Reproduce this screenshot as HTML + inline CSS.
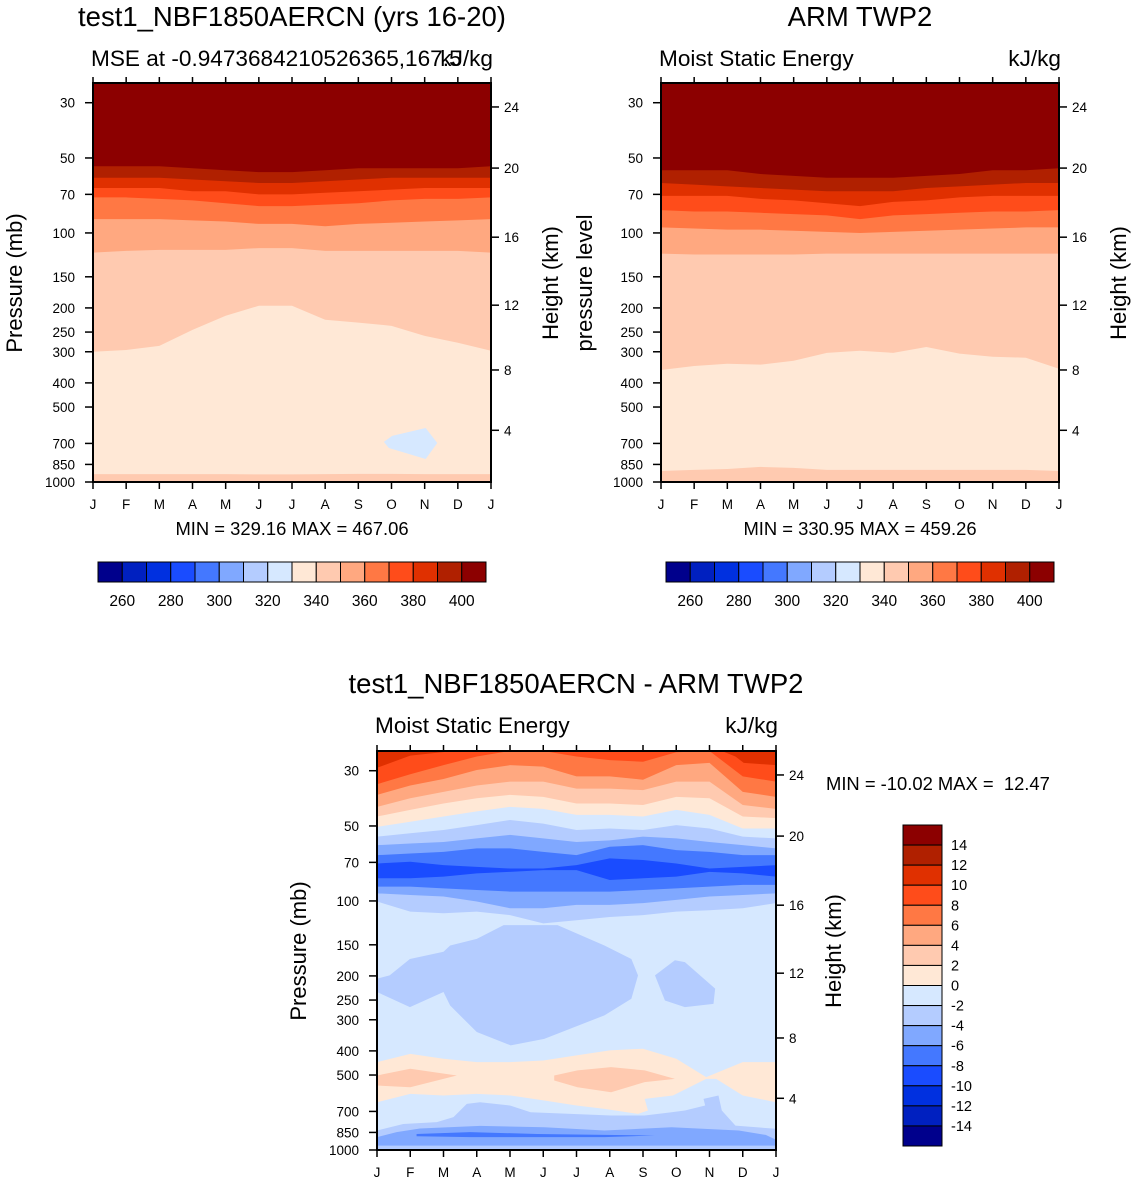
<!DOCTYPE html>
<html><head><meta charset="utf-8">
<style>
html,body{margin:0;padding:0;background:#fff;}
svg{display:block;font-family:"Liberation Sans",Arial,sans-serif;}
</style></head>
<body>
<svg id="chart" width="1135" height="1188" viewBox="0 0 1135 1188" xmlns="http://www.w3.org/2000/svg">
<rect width="1135" height="1188" fill="#fff"/>
<g>
<text x="292" y="26" font-size="27.5" text-anchor="middle">test1_NBF1850AERCN (yrs 16-20)</text>
<text x="91" y="66" font-size="22.6">MSE at -0.9473684210526365,167.5</text>
<text x="493" y="66" font-size="22.6" text-anchor="end">kJ/kg</text>
<text transform="translate(22,283) rotate(-90)" font-size="22" text-anchor="middle">Pressure (mb)</text>
<text transform="translate(558,283) rotate(-90)" font-size="22" text-anchor="middle">Height (km)</text>
<text x="292" y="535" font-size="18.4" text-anchor="middle">MIN = 329.16 MAX = 467.06</text>
</g>
<g>
<text x="860" y="26" font-size="27.5" text-anchor="middle">ARM TWP2</text>
<text x="659" y="66" font-size="22.6">Moist Static Energy</text>
<text x="1061" y="66" font-size="22.6" text-anchor="end">kJ/kg</text>
<text transform="translate(592,283) rotate(-90)" font-size="22" text-anchor="middle">pressure level</text>
<text transform="translate(1126,283) rotate(-90)" font-size="22" text-anchor="middle">Height (km)</text>
<text x="860" y="535" font-size="18.4" text-anchor="middle">MIN = 330.95 MAX = 459.26</text>
</g>
<g>
<text x="576" y="693" font-size="27.5" text-anchor="middle">test1_NBF1850AERCN - ARM TWP2</text>
<text x="375" y="733" font-size="22.6">Moist Static Energy</text>
<text x="778" y="733" font-size="22.6" text-anchor="end">kJ/kg</text>
<text transform="translate(306,951) rotate(-90)" font-size="22" text-anchor="middle">Pressure (mb)</text>
<text transform="translate(841,951) rotate(-90)" font-size="22" text-anchor="middle">Height (km)</text>
<text x="826" y="790" font-size="18.4" style="white-space:pre">MIN = -10.02 MAX =  12.47</text>
</g>
</svg>
<script>
// ---- shared axis data ----
const months = ["J","F","M","A","M","J","J","A","S","O","N","D","J"];
const pressureTicks = [30,50,70,100,150,200,250,300,400,500,700,850,1000];
const heightTicks = [4,8,12,16,20,24];
const heightTickPressure = [620,355,195,104,54.9,31.2];
const absLevels = [260,280,300,320,340,360,380,400];
const diffLevels = [14,12,10,8,6,4,2,0,-2,-4,-6,-8,-10,-12,-14];
const palette = ["#00008c","#0020c0","#0030e0","#1a4cff","#4478ff","#80a8ff","#b4ccff","#d6e8ff","#ffe8d6","#ffcab0","#ffa880","#ff7844","#ff4c1a","#e03000","#b02000","#8c0000"];

// ---- panel 1 (model) boundaries, pressure (mb) per month ----
const m1_b400 = [54,54,54,55,56,57,57,56,55,55,55,55,54];
const m1_b390 = [60,60,60,61,62,63,63,62,61,60,60,60,60];
const m1_b380 = [66,66,66,68,68,70,70,69,68,67,66,66,66];
const m1_b370 = [72,72,73,74,76,78,78,77,76,74,73,73,72];
const m1_b360 = [88,88,88,89,90,92,92,94,92,91,90,89,88];
const m1_b350 = [120,118,117,117,117,115,115,118,118,118,118,118,120];
const m1_b340 = [300,295,284,245,215,196,196,223,229,236,259,276,297];
const m1_b330 = [930,930,930,930,930,932,932,930,928,928,930,930,930];
const m1_blob = [[8.77,690],[9.02,653],[10.03,607],[10.38,697],[10.03,808],[8.92,730]];

// ---- panel 2 (obs) ----
const m2_b400 = [56,56,56,58,59,60,60,60,59,58,56,56,55];
const m2_b390 = [63,64,65,66,67,68,68,68,66,65,64,63,63];
const m2_b380 = [71,71,71,73,74,76,78,75,74,72,71,71,71];
const m2_b370 = [81,82,82,83,84,85,88,85,84,83,82,82,81];
const m2_b360 = [95,96,97,97,98,99,100,99,98,97,96,95,95];
const m2_b350 = [121,122,122,122,122,121,121,121,121,121,121,121,121];
const m2_b340 = [355,342,335,338,326,303,297,303,287,305,314,317,351];
const m2_b330 = [903,894,887,870,878,894,894,894,894,894,894,894,903];

// ---- panel 3 (difference) ----
const d_c1 = [34,31,28.5,26.3,25,25,26.3,27.2,27.6,25.3,25,31.6,33.2];
const d_c2 = [37.5,34.4,32.4,29.8,28.5,28.9,31.6,31.6,32.6,28.5,27.9,36.5,38.2];
const d_c3 = [41.9,38.7,36.5,34.4,33.2,33.2,35.4,35.4,35.9,33.2,33.2,41.2,42.7];
const d_c4 = [45.8,43.1,40.6,38.7,37.5,38.2,40.6,40.6,41.2,38.2,38.7,45.8,46.5];
const d_c5 = [50.4,48.1,45.8,43.7,41.9,42.7,45.1,45.1,45.8,43.1,45.1,51.2,51.2];
const d_c6 = [55.2,53.5,51.9,49.6,47.3,48.9,51.9,51.2,51.9,49.6,51.2,55.2,56.1];
const d_c7 = [59.7,58.8,58,56.1,54.3,56.1,58,57.1,55.2,56.1,58,59.7,61.5];
const d_c8 = [65.5,64.5,63.5,61.5,61.5,63.5,65.5,60.6,59.7,62.5,63.5,65.5,65.5];
const d_c9 = [70.7,69.6,71.8,73,74.1,74.1,71.8,67.5,68.5,70.7,74.1,73,71.8];
const d_c10 = [81.1,81.1,79.9,77.5,76.4,75.2,75.2,82.4,81.1,79.9,76.4,77.5,79.9];
const d_c11 = [87.6,87.6,89,90.4,91.7,91.7,91.7,91.7,90.4,89,87.6,86.2,86.2];
const d_c12 = [93.2,94.6,96,100.5,107,107,103.7,103.7,102,99,96,94.6,93.2];
const d_c13 = [100.5,110.4,112,110.4,114,123,119.5,116,114,110.4,109,107,102];
const d_topLeft = [[0,25],[2.3,25],[1,26.1],[0,29.2]];
const d_topRight = [[10.37,25],[12,25],[12,28.5],[11.03,27.9],[10.78,26.3]];
const d_bigBlob = [[0,205],[0,232],[0.99,267],[2.0,232],[2.2,263],[3.0,336],[4.02,380],[5.03,358],[6.84,288],[7.65,247],[7.85,199],[7.65,171],[6.84,151],[5.43,125],[3.81,125],[3.0,142],[2.2,151],[2.0,160],[0.99,171],[0.38,199]];
const d_smallBlob = [[8.36,199],[8.96,173],[9.26,176],[10.17,225],[10.12,259],[9.26,267],[8.66,251]];
const d_pinkBand = [[0,444],[1,411],[2,430],[3,444],[4,444],[5,437],[6,417],[7,398],[8,392],[9,430],[9.9,510],[11,444],[12,444],[12,643],[11,604],[10.2,518],[9.9,518],[8.9,604],[8.05,623],[8.15,694],[7.85,716],[6.84,684],[6.0,663],[5.03,633],[4.02,604],[3.0,595],[2.0,604],[1.0,595],[0,643]];
const d_peachA = [[0,502],[1,472],[2.4,502],[1,560],[0,551]];
const d_peachB = [[5.33,502],[6.03,479],[7.04,465],[8.05,479],[8.96,518],[8.05,534],[7.04,586],[6.03,560],[5.33,526]];
const d_lowBlue = [[0,835],[0.79,786],[1.8,773],[2.3,738],[2.7,653],[3.1,643],[4.0,663],[4.62,705],[5.83,716],[7.04,727],[8.05,727],[8.86,705],[9.26,694],[9.87,663],[9.82,623],[10.27,604],[10.37,694],[10.78,798],[12,822],[12,1000],[0,1000]];
const d_lowBlue2 = [[0,888],[0.59,848],[1.29,820],[3.1,800],[5.03,810],[6.84,835],[8.86,810],[10.88,835],[11.69,870],[12,910],[12,960],[0,960]];
const d_lowBlue3 = [[1.19,862],[2.8,848],[4.82,862],[6.84,869],[8.36,875],[6.84,888],[2.8,888],[1.19,881]];

const NS="http://www.w3.org/2000/svg";
const svg=document.getElementById('chart');
function mk(tag,attrs,parent){const e=document.createElementNS(NS,tag);for(const k in attrs)e.setAttribute(k,attrs[k]);(parent||svg).appendChild(e);return e;}

function makeAxes(x0,y0,w,h){
  const PTOP=25,PBOT=1000;
  return {
    x:m=>x0+m/12*w,
    y:p=>y0+h-Math.log(PBOT/p)/Math.log(PBOT/PTOP)*h,
    x0,y0,w,h
  };
}
function bandPath(ax,arr){
  let d=`M${ax.x(0)},${ax.y0} L${ax.x(12)},${ax.y0}`;
  for(let i=arr.length-1;i>=0;i--) d+=` L${ax.x(i)},${ax.y(arr[i])}`;
  return d+'Z';
}
function polyPath(ax,pts){
  return 'M'+pts.map(p=>ax.x(p[0])+','+ax.y(p[1])).join(' L')+'Z';
}

function drawFrame(ax,g,prefix){
  const {x0,y0,w,h}=ax;
  for(let i=0;i<months.length;i++){
    const xx=ax.x(i);
    const t1=mk('line',{x1:xx,x2:xx,y1:y0+h,y2:y0+h+7,stroke:'#000','stroke-width':1.5},g);
    
    
    const t2=mk('line',{x1:xx,x2:xx,y1:y0,y2:y0-6,stroke:'#000','stroke-width':1.5},g);
    
    
    const lb=mk('text',{x:xx,y:y0+h+27,'font-size':13.5,'text-anchor':'middle'},g);
    lb.textContent=months[i];
    
    
  }
  for(const p of pressureTicks){
    const yy=ax.y(p);
    const t=mk('line',{x1:x0-8,x2:x0,y1:yy,y2:yy,stroke:'#000','stroke-width':1.5},g);
    
    
    const lb=mk('text',{x:x0-18,y:yy+5,'font-size':13.5,'text-anchor':'end'},g);
    lb.textContent=p;
    
    
  }
  for(let i=0;i<heightTicks.length;i++){
    const yy=ax.y(heightTickPressure[i]);
    const t=mk('line',{x1:x0+w,x2:x0+w+8,y1:yy,y2:yy,stroke:'#000','stroke-width':1.5},g);
    
    
    const lb=mk('text',{x:x0+w+13,y:yy+5,'font-size':13.5},g);
    lb.textContent=heightTicks[i];
    
    
  }
  const fr=mk('rect',{x:x0,y:y0,width:w,height:h,fill:'none',stroke:'#000','stroke-width':2},g);
  
  
}

function drawAbsPanel(x0,prefix,bounds,blob){
  const ax=makeAxes(x0,83,398,399);
  const g=mk('g',{});
  
  
  const bg=mk('rect',{x:x0,y:83,width:398,height:399,fill:palette[9]},g);
  
  
  const cols=[palette[15],palette[14],palette[13],palette[12],palette[11],palette[10],palette[9],palette[8]];
  for(let i=bounds.length-1;i>=0;i--){
    const p=mk('path',{d:bandPath(ax,bounds[i]),fill:cols[i]},g);
    
    
  }
  if(blob){
    const b=mk('path',{d:polyPath(ax,blob),fill:palette[7]},g);
    
    
  }
  drawFrame(ax,g,prefix);
}
drawAbsPanel(93,'model',[m1_b400,m1_b390,m1_b380,m1_b370,m1_b360,m1_b350,m1_b340,m1_b330],m1_blob);
drawAbsPanel(661,'obs',[m2_b400,m2_b390,m2_b380,m2_b370,m2_b360,m2_b350,m2_b340,m2_b330],null);

// diff panel
(function(){
  const ax=makeAxes(377,751,399,399);
  const g=mk('g',{});
  
  
  const bg=mk('rect',{x:377,y:751,width:399,height:399,fill:palette[7]},g);
  
  
  const bounds=[d_c1,d_c2,d_c3,d_c4,d_c5,d_c6,d_c7,d_c8,d_c9,d_c10,d_c11,d_c12,d_c13];
  const cols=[palette[12],palette[11],palette[10],palette[9],palette[8],palette[7],palette[6],palette[5],palette[4],palette[3],palette[4],palette[5],palette[6]];
  for(let i=bounds.length-1;i>=0;i--){
    const p=mk('path',{d:bandPath(ax,bounds[i]),fill:cols[i]},g);
    
    
  }
  const polys=[[d_topLeft,palette[13],'diff-top-left-max'],[d_topRight,palette[13],'diff-top-right-max'],
    [d_bigBlob,palette[6],'diff-upper-blob'],[d_smallBlob,palette[6],'diff-small-blob'],
    [d_pinkBand,palette[8],'diff-positive-band'],[d_peachA,palette[9],'diff-positive-core-a'],[d_peachB,palette[9],'diff-positive-core-b'],
    [d_lowBlue,palette[6],'diff-boundary-layer-neg'],[d_lowBlue2,palette[5],'diff-boundary-layer-neg2'],[d_lowBlue3,palette[4],'diff-boundary-layer-neg3']];
  for(const [pts,c,n] of polys){
    const p=mk('path',{d:polyPath(ax,pts),fill:c},g);
    
    
  }
  drawFrame(ax,g,'diff');
})();

// horizontal colorbars
function hbar(x0,prefix){
  const g=mk('g',{});
  
  
  const bw=388/16;
  for(let i=0;i<16;i++){
    const r=mk('rect',{x:x0+i*bw,y:562,width:bw,height:20,fill:palette[i],stroke:'#000','stroke-width':1},g);
    
    
  }
  for(let k=0;k<absLevels.length;k++){
    const idx=(absLevels[k]-250)/10;
    const t=mk('text',{x:x0+idx*bw,y:606,'font-size':15.5,'text-anchor':'middle'},g);
    t.textContent=absLevels[k];
    
    
  }
}
hbar(98,'model');
hbar(666,'obs');

// vertical colorbar
(function(){
  const g=mk('g',{});
  
  
  const bh=321/16;
  for(let i=0;i<16;i++){
    const r=mk('rect',{x:903,y:825+i*bh,width:39,height:bh,fill:palette[15-i],stroke:'#000','stroke-width':1},g);
    
    
  }
  for(let k=0;k<diffLevels.length;k++){
    const idx=(16-diffLevels[k])/2;
    const t=mk('text',{x:951,y:825+idx*bh+5,'font-size':14.5},g);
    t.textContent=diffLevels[k];
    
    
  }
})();
</script>
</body></html>
